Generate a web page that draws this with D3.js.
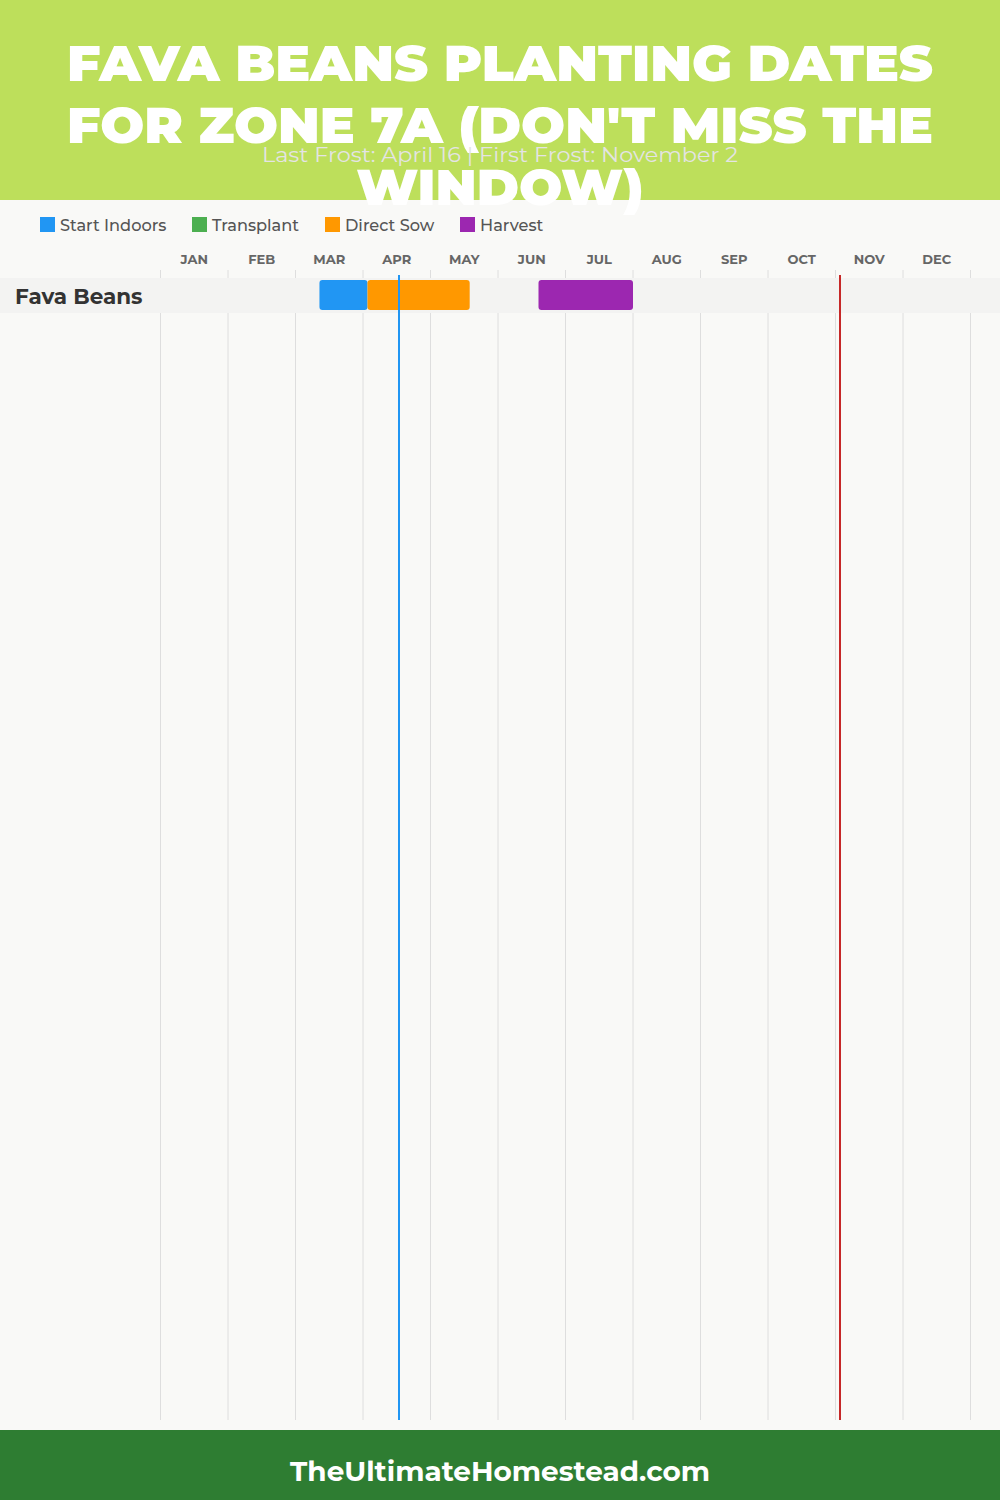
<!DOCTYPE html>
<html>
<head>
<meta charset="utf-8">
<script src="https://cdn.jsdelivr.net/npm/d3@7"></script>
<style>
  html, body { margin: 0; padding: 0; background: #f9f9f7; }
  svg { display: block; }
</style>
</head>
<body>
<div id="chart"></div>
<script>
// ---- data ----
const months = ["JAN","FEB","MAR","APR","MAY","JUN","JUL","AUG","SEP","OCT","NOV","DEC"];
const daysInMonth = [31,28,31,30,31,30,31,31,30,31,30,31];
const titleLines = ["FAVA BEANS PLANTING DATES", "FOR ZONE 7A (DON'T MISS THE", "WINDOW)"];
const subtitle = "Last Frost: April 16 | First Frost: November 2";
const phases = ["Start Indoors", "Transplant", "Direct Sow", "Harvest"];
const phaseColors = ["#2196F3", "#4CAF50", "#FF9800", "#9C27B0"];
const crops = ["Fava Beans"];
// [crop, phase, startMonthIdx, startDay, endMonthIdx, endDay]
const segments = [
  ["Fava Beans", "Start Indoors", 2, 11, 3, 2],
  ["Fava Beans", "Direct Sow",    3, 2,  4, 18],
  ["Fava Beans", "Harvest",       5, 18, 6, 31]
];
const lastFrost = [3, 16];
const firstFrost = [10, 2];
const footerText = "TheUltimateHomestead.com";

// ---- layout ----
const W = 1000, H = 1500;
const svg = d3.select("#chart").append("svg").attr("width", W).attr("height", H);
const titleFont = "Montserrat, 'DejaVu Sans', 'Open Sans', sans-serif";
const bodyFont = "Montserrat, 'Open Sans', 'Noto Sans', sans-serif";

svg.append("rect").attr("width", W).attr("height", H).attr("fill", "#f9f9f7");

// header
svg.append("rect").attr("x", 0).attr("y", 0).attr("width", W).attr("height", 200).attr("fill", "#bddf5b");

// scales
const x = d3.scaleLinear().domain([0, 12]).range([160.5, 970.5]);
const dx = (m, d) => x(m + d / daysInMonth[m]);
const rowTop = 278, rowH = 35;
const y = d3.scaleBand().domain(crops).range([rowTop, rowTop + rowH * crops.length]).padding(0);
const color = d3.scaleOrdinal().domain(phases).range(phaseColors);

// gridlines
svg.append("g").selectAll("line").data(d3.range(13)).join("line")
  .attr("x1", d => x(d)).attr("x2", d => x(d))
  .attr("y1", 270).attr("y2", 1420)
  .attr("stroke", "#dedede").attr("stroke-width", 1);

// month labels
svg.append("g").selectAll("text").data(months).join("text")
  .attr("x", (d, i) => x(i + 0.5)).attr("y", 264)
  .attr("text-anchor", "middle")
  .attr("font-family", bodyFont).attr("font-weight", 700).attr("font-size", 13)
  .attr("fill", "#666").text(d => d);

// row backgrounds
svg.append("g").selectAll("rect").data(crops).join("rect")
  .attr("x", 0).attr("width", W)
  .attr("y", d => y(d)).attr("height", y.bandwidth())
  .attr("fill", "#f3f3f2");

// row labels
svg.append("g").selectAll("text").data(crops).join("text")
  .attr("x", 15).attr("y", d => y(d) + y.bandwidth() / 2 + 8)
  .attr("font-family", bodyFont).attr("font-weight", 700).attr("font-size", 21.5)
  .attr("fill", "#333").text(d => d);

// bars
svg.append("g").selectAll("rect").data(segments).join("rect")
  .attr("x", d => dx(d[2], d[3]))
  .attr("width", d => dx(d[4], d[5]) - dx(d[2], d[3]))
  .attr("y", d => y(d[0]) + 2).attr("height", y.bandwidth() - 5)
  .attr("rx", 3).attr("ry", 3)
  .attr("fill", d => color(d[1]));

// frost lines
svg.append("line")
  .attr("x1", dx(lastFrost[0], lastFrost[1])).attr("x2", dx(lastFrost[0], lastFrost[1]))
  .attr("y1", 275).attr("y2", 1420).attr("stroke", "#2196F3").attr("stroke-width", 2);
svg.append("line")
  .attr("x1", dx(firstFrost[0], firstFrost[1])).attr("x2", dx(firstFrost[0], firstFrost[1]))
  .attr("y1", 275).attr("y2", 1420).attr("stroke", "#c62828").attr("stroke-width", 2);

// legend
const legendX = [40, 192, 325, 460];
const lg = svg.append("g").selectAll("g").data(phases).join("g")
  .attr("transform", (d, i) => `translate(${legendX[i]},217)`);
lg.append("rect").attr("width", 15).attr("height", 15).attr("fill", d => color(d));
lg.append("text").attr("x", 20).attr("y", 13.5)
  .attr("font-family", bodyFont).attr("font-weight", 500).attr("font-size", 16.2)
  .attr("fill", "#555").text(d => d);

// title
const titleWidths = [866, 866, 287];
svg.append("g").selectAll("text").data(titleLines).join("text")
  .attr("x", 500).attr("y", (d, i) => 81 + i * 62)
  .attr("text-anchor", "middle")
  .attr("font-family", titleFont).attr("font-weight", 900).attr("font-size", 50)
  .attr("textLength", (d, i) => titleWidths[i]).attr("lengthAdjust", "spacingAndGlyphs")
  .attr("fill", "#ffffff").text(d => d);

// subtitle
svg.append("text").attr("x", 500).attr("y", 162).attr("text-anchor", "middle")
  .attr("font-family", bodyFont).attr("font-size", 20)
  .attr("textLength", 476).attr("lengthAdjust", "spacingAndGlyphs")
  .attr("fill", "#e4e4e4").text(subtitle);

// footer
svg.append("rect").attr("x", 0).attr("y", 1430).attr("width", W).attr("height", 70).attr("fill", "#2e7d32");
svg.append("text").attr("x", 500).attr("y", 1481).attr("text-anchor", "middle")
  .attr("font-family", bodyFont).attr("font-weight", 700).attr("font-size", 28)
  .attr("textLength", 420).attr("lengthAdjust", "spacingAndGlyphs")
  .attr("fill", "#ffffff").text(footerText);
</script>
</body>
</html>
